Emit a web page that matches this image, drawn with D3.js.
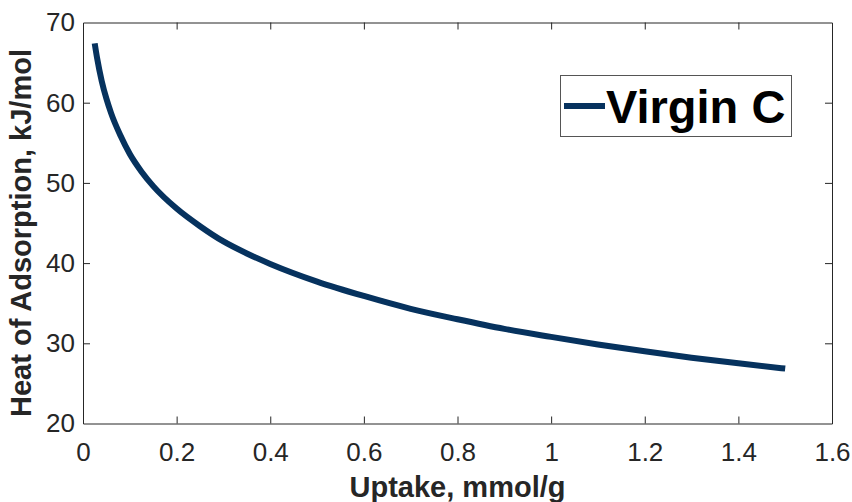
<!DOCTYPE html>
<html>
<head>
<meta charset="utf-8">
<script src="https://cdn.jsdelivr.net/npm/d3@7"></script>
<style>
  html, body { margin: 0; padding: 0; background: #fff; }
  svg { display: block; }
</style>
</head>
<body>
<svg id="chart" width="852" height="502"></svg>
<script>
// ---- data ----
const uptake = [0.025, 0.030, 0.040, 0.050, 0.060, 0.080, 0.100, 0.125, 0.150, 0.200,
                0.250, 0.300, 0.350, 0.400, 0.500, 0.600, 0.700, 0.800, 0.900, 1.000,
                1.100, 1.200, 1.300, 1.400, 1.500];
const heat   = [67.4, 65.6, 62.7, 60.5, 58.7, 55.9, 53.6, 51.4, 49.6, 46.8,
                44.6, 42.7, 41.2, 39.9, 37.7, 35.9, 34.3, 33.0, 31.8, 30.8,
                29.85, 29.0, 28.2, 27.5, 26.85];
const xTicks = [0, 0.2, 0.4, 0.6, 0.8, 1, 1.2, 1.4, 1.6];
const yTicks = [20, 30, 40, 50, 60, 70];
const seriesName = "Virgin C";
const xLabel = "Uptake, mmol/g";
const yLabel = "Heat of Adsorption, kJ/mol";

// ---- layout ----
const L = 83, R = 832, T = 22.5, B = 423.5;
const lineColor = "#06325e";
const axisColor = "#262626";
const font = "'Liberation Sans', Arial, Helvetica, sans-serif";

const svg = d3.select("#chart");
const x = d3.scaleLinear().domain([0, 1.6]).range([L, R]);
const y = d3.scaleLinear().domain([20, 70]).range([B, T]);

const tickLen = 7;
// bottom axis
const gB = svg.append("g").attr("transform", `translate(0,${B})`)
  .call(d3.axisBottom(x).tickValues(xTicks).tickFormat(d3.format("~g")).tickSizeInner(-tickLen).tickSizeOuter(0).tickPadding(19));
// top axis
const gT = svg.append("g").attr("transform", `translate(0,${T})`)
  .call(d3.axisTop(x).tickValues(xTicks).tickFormat("").tickSizeInner(-tickLen).tickSizeOuter(0));
// left axis
const gL = svg.append("g").attr("transform", `translate(${L},0)`)
  .call(d3.axisLeft(y).tickValues(yTicks).tickSizeInner(-tickLen).tickSizeOuter(0).tickPadding(8));
// right axis
const gR = svg.append("g").attr("transform", `translate(${R},0)`)
  .call(d3.axisRight(y).tickValues(yTicks).tickFormat("").tickSizeInner(-tickLen).tickSizeOuter(0));

[gB, gT, gL, gR].forEach(g => {
  g.select(".domain").attr("stroke", axisColor).attr("stroke-width", 1);
  g.selectAll(".tick line").attr("stroke", axisColor).attr("stroke-width", 1);
  g.selectAll(".tick text").attr("fill", axisColor)
    .style("font-family", font).style("font-size", "26px");
});
// hide end ticks overlapping frame
[gB, gT].forEach(g => g.selectAll(".tick").filter(d => d === 0 || d === 1.6).select("line").remove());
[gL, gR].forEach(g => g.selectAll(".tick").filter(d => d === 20 || d === 70).select("line").remove());

// ---- line ----
const pts = uptake.map((u, i) => [u, heat[i]]);
svg.append("path")
  .datum(pts)
  .attr("fill", "none")
  .attr("stroke", lineColor)
  .attr("stroke-width", 6)
  .attr("d", d3.line().x(d => x(d[0])).y(d => y(d[1])).curve(d3.curveMonotoneX));

// ---- axis titles ----
svg.append("text")
  .attr("x", (L + R) / 2).attr("y", 497)
  .attr("text-anchor", "middle")
  .style("font-family", font).style("font-weight", "bold").style("font-size", "29px")
  .attr("fill", axisColor)
  .text(xLabel);

svg.append("text")
  .attr("transform", `translate(31,${(T + B) / 2 + 10}) rotate(-90)`)
  .attr("text-anchor", "middle")
  .style("font-family", font).style("font-weight", "bold").style("font-size", "29px")
  .attr("fill", axisColor)
  .text(yLabel);

// ---- legend ----
const lg = svg.append("g");
lg.append("rect")
  .attr("x", 560.5).attr("y", 75.5).attr("width", 231).attr("height", 61)
  .attr("fill", "#fff").attr("stroke", "#555").attr("stroke-width", 1);
lg.append("line")
  .attr("x1", 564).attr("x2", 605).attr("y1", 106).attr("y2", 106)
  .attr("stroke", lineColor).attr("stroke-width", 6);
lg.append("text")
  .attr("x", 606).attr("y", 123)
  .style("font-family", font).style("font-weight", "bold").style("font-size", "47px")
  .attr("fill", "#000")
  .text(seriesName);
</script>
</body>
</html>
